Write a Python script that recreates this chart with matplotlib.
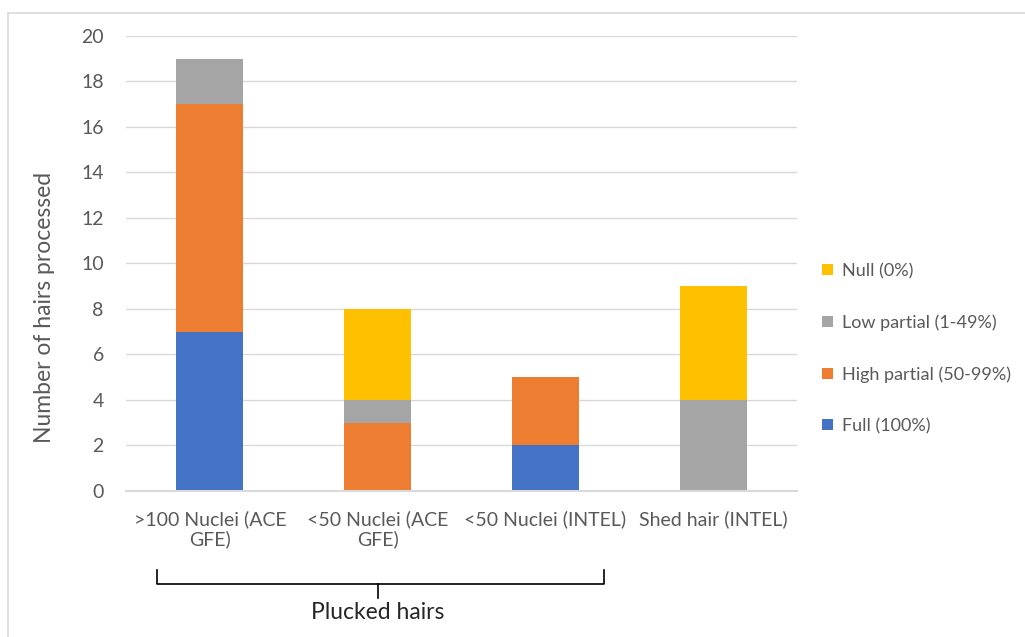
import matplotlib.pyplot as plt
import matplotlib.transforms as mtransforms
from matplotlib.patches import Rectangle, Patch
import numpy as np

plt.rcParams['font.family'] = ['Lato', 'DejaVu Sans']

categories = [">100 Nuclei (ACE\nGFE)", "<50 Nuclei (ACE\nGFE)", "<50 Nuclei (INTEL)", "Shed hair (INTEL)"]
full = [7, 0, 2, 0]
high_partial = [10, 3, 3, 0]
low_partial = [2, 1, 0, 4]
null = [0, 4, 0, 5]

series = [
    ("Full (100%)", full, "#4472C4"),
    ("High partial (50-99%)", high_partial, "#ED7D31"),
    ("Low partial (1-49%)", low_partial, "#A5A5A5"),
    ("Null (0%)", null, "#FFC000"),
]

text_col = "#595959"
grid_col = "#D9D9D9"

fig = plt.figure(figsize=(10.25, 6.37), dpi=100)
ax = fig.add_axes([0.123, 0.2292, 0.6546, 0.7143])

x = np.arange(len(categories))
bottom = np.zeros(len(categories))
handles = []
for name, vals, col in series:
    vals = np.array(vals, dtype=float)
    ax.bar(x, vals, 0.4, bottom=bottom, color=col, zorder=3)
    bottom += vals
    handles.append(Patch(facecolor=col, label=name))

ax.set_ylim(0, 20)
ax.set_xlim(-0.5, 3.5)
ax.set_yticks(range(0, 21, 2))
ax.set_xticks(x)
ax.set_xticklabels(categories, fontsize=14, color=text_col, linespacing=1.15)
ax.tick_params(axis='y', labelsize=14, colors=text_col, length=0, pad=16)
ax.tick_params(axis='x', length=0, pad=14)
ax.grid(axis='y', color=grid_col, linewidth=1, zorder=0)
for s in ['top', 'right', 'left']:
    ax.spines[s].set_visible(False)
ax.spines['bottom'].set_color(grid_col)
ax.spines['bottom'].set_linewidth(1.5)
ax.spines['bottom'].set_zorder(4)

fig.text(0.043, 0.518, "Number of hairs processed", rotation=90, fontsize=16.5,
         color=text_col, ha='center', va='center')

fig.legend(handles=handles[::-1], loc='center left', bbox_to_anchor=(0.802, 0.453),
           frameon=False, fontsize=13, labelcolor=text_col, handlelength=0.6,
           handleheight=0.6, handletextpad=0.5, labelspacing=1.95,
           borderpad=0, borderaxespad=0)

# bracket under the plucked-hair groups
tr = mtransforms.blended_transform_factory(ax.transData, fig.transFigure)
xl, xm, xr = -0.316, 1.0, 2.35
y_top, y_mid, y_low = 0.105, 0.083, 0.061
ax.plot([xl, xl, xr, xr], [y_top, y_mid, y_mid, y_top], color='black', lw=1.2,
        transform=tr, clip_on=False)
ax.plot([xm, xm], [y_mid, y_low], color='black', lw=1.2, transform=tr, clip_on=False)
ax.text(xm, 0.039, "Plucked hairs", fontsize=16.5, color='#262626', ha='center', va='center',
        transform=tr)

# chart area border
fig.patches.append(Rectangle((8 / 1025, -0.01), 1.02, 1 - 13 / 637 + 0.01,
                             transform=fig.transFigure, fill=False,
                             edgecolor=grid_col, linewidth=1.2))

fig.savefig("out.png", dpi=100, facecolor='white')
